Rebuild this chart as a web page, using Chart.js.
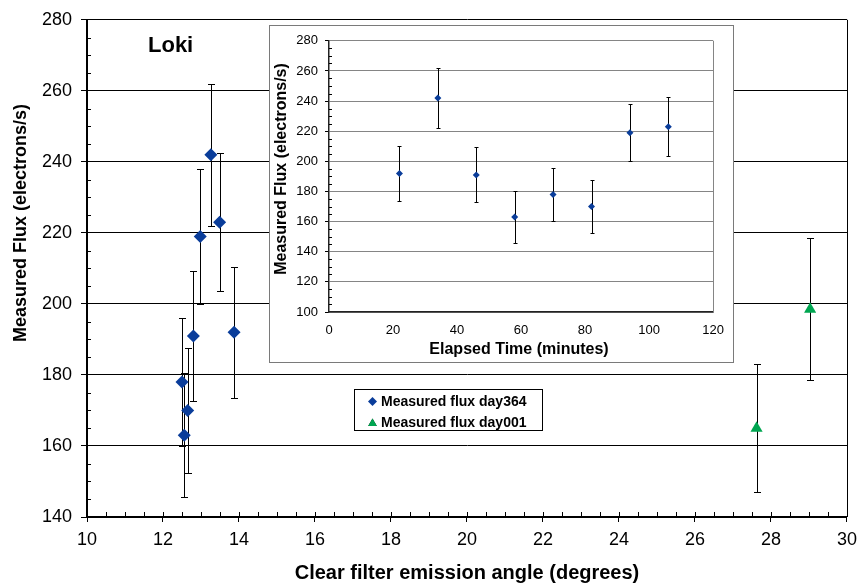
<!DOCTYPE html>
<html>
<head>
<meta charset="utf-8">
<script src="https://cdn.jsdelivr.net/npm/chart.js@4.4.1/dist/chart.umd.min.js"></script>
<style>
  html, body { margin: 0; padding: 0; background: #fff; }
  #wrap { position: relative; width: 861px; height: 588px; }
  #mainChart { position: absolute; left: 0; top: 0; }
  #insetBox {
    position: absolute; left: 269px; top: 25px; width: 465px; height: 338px;
    box-sizing: border-box; border: 1px solid #7a7a7a; background: #fff;
  }
  #insetChart { display: block; }
</style>
</head>
<body>
<div id="wrap">
  <canvas id="mainChart" width="861" height="588"></canvas>
  <div id="insetBox"><canvas id="insetChart" width="463" height="336"></canvas></div>
</div>
<script>
// Loki flux measurements, day 364 sequence (in order of elapsed time)
const elapsedMinutes = [22, 34, 46, 58, 70, 82, 94, 106];
const emissionAngle364 = [13.87, 13.26, 12.80, 12.56, 12.50, 12.65, 12.98, 13.49];
const flux364 = [192, 242, 191, 163, 178, 170, 219, 223];
const fluxErr364 = [18.5, 20, 18.3, 17.5, 17.9, 17.7, 19, 19.4];

// Day 001 measurements
const emissionAngle001 = [27.62, 29.03];
const flux001 = [165, 198.5];
const fluxErr001 = [18, 20];

// Axis ranges / tick spacing
const angleAxis = { min: 10, max: 30, step: 2, minor: 0.5 };
const fluxAxis = { min: 140, max: 280, step: 20, minor: 5 };
const timeAxis = { min: 0, max: 120, step: 20 };
const insetFluxAxis = { min: 100, max: 280, step: 20, minor: 5 };

const seriesNames = ['Measured flux day364', 'Measured flux day001'];
const titleText = 'Loki';
const mainYTitle = 'Measured Flux (electrons/s)';
const mainXTitle = 'Clear filter emission angle (degrees)';
const insetYTitle = 'Measured Flux (electrons/s)';
const insetXTitle = 'Elapsed Time (minutes)';

const BLUE = '#0a3d9a';
const GREEN = '#00a651';
const FONT = '"Liberation Sans", Arial, Helvetica, sans-serif';

const toPoints = (xs, ys) => xs.map((x, i) => ({ x: x, y: ys[i] }));

// vertical error bars with small caps, drawn under the markers
function errorBars(errs, capHalf) {
  return {
    id: 'errorBars',
    beforeDatasetsDraw(chart) {
      const { ctx } = chart;
      const xs = chart.scales.x, ys = chart.scales.y;
      ctx.save();
      ctx.strokeStyle = '#000';
      ctx.lineWidth = 1;
      chart.data.datasets.forEach((ds, i) => {
        const e = errs[i];
        if (!e) return;
        ds.data.forEach((p, j) => {
          const px = Math.round(xs.getPixelForValue(p.x)) + 0.5;
          const yTop = Math.round(ys.getPixelForValue(p.y + e[j])) + 0.5;
          const yBot = Math.round(ys.getPixelForValue(p.y - e[j])) + 0.5;
          ctx.beginPath();
          ctx.moveTo(px, yTop); ctx.lineTo(px, yBot);
          ctx.moveTo(px - capHalf, yTop); ctx.lineTo(px + capHalf, yTop);
          ctx.moveTo(px - capHalf, yBot); ctx.lineTo(px + capHalf, yBot);
          ctx.stroke();
        });
      });
      ctx.restore();
    }
  };
}

// minor ticks inside the plot, plus the right-hand frame line
function frameAndMinorTicks(cfg) {
  return {
    id: 'frameMinor',
    afterDatasetsDraw(chart) {
      const { ctx, chartArea: a } = chart;
      const xs = chart.scales.x, ys = chart.scales.y;
      ctx.save();
      ctx.strokeStyle = cfg.frameColor;
      ctx.lineWidth = 1;
      ctx.beginPath();
      ctx.moveTo(Math.round(a.right) + 0.5, a.top);
      ctx.lineTo(Math.round(a.right) + 0.5, a.bottom);
      ctx.stroke();
      ctx.strokeStyle = '#000';
      ctx.beginPath();
      if (cfg.yMinor) {
        for (let v = cfg.yRange.min + cfg.yMinor; v < cfg.yRange.max; v += cfg.yMinor) {
          if (Math.abs(v % cfg.yRange.step) < 1e-6) continue;
          const py = Math.round(ys.getPixelForValue(v)) + 0.5;
          ctx.moveTo(a.left, py); ctx.lineTo(a.left + cfg.yLen, py);
        }
      }
      if (cfg.xMinor) {
        for (let v = cfg.xRange.min + cfg.xMinor; v < cfg.xRange.max - 1e-6; v += cfg.xMinor) {
          const px = Math.round(xs.getPixelForValue(v)) + 0.5;
          ctx.moveTo(px, a.bottom); ctx.lineTo(px, a.bottom - cfg.xLen);
        }
      }
      ctx.stroke();
      ctx.restore();
    }
  };
}

// free-standing text: axis titles and the target name
function textLabels(items) {
  return {
    id: 'textLabels',
    afterDraw(chart) {
      const { ctx } = chart;
      items.forEach(t => {
        ctx.save();
        ctx.font = t.font;
        ctx.fillStyle = '#000';
        ctx.textAlign = t.align || 'center';
        ctx.textBaseline = t.baseline || 'middle';
        ctx.translate(t.x, t.y);
        if (t.rotate) ctx.rotate(t.rotate);
        ctx.fillText(t.text, 0, 0);
        ctx.restore();
      });
    }
  };
}

// boxed legend placed inside the plot area
const boxedLegend = {
  id: 'boxedLegend',
  afterDraw(chart) {
    const { ctx } = chart;
    const box = { x: 354.5, y: 389.5, w: 188, h: 41 };
    ctx.save();
    ctx.fillStyle = '#fff';
    ctx.fillRect(box.x, box.y, box.w, box.h);
    ctx.strokeStyle = '#000';
    ctx.lineWidth = 1;
    ctx.strokeRect(box.x, box.y, box.w, box.h);
    ctx.font = 'bold 14px ' + FONT;
    ctx.textAlign = 'left';
    ctx.textBaseline = 'middle';
    chart.data.datasets.forEach((ds, i) => {
      const cy = 401.5 + i * 21;
      Chart.helpers.drawPoint(ctx, {
        pointStyle: ds.pointStyle, radius: ds.pointStyle === 'triangle' ? 5 : 4.5,
        borderWidth: 0, rotation: 0
      }, 372.5, cy + (ds.pointStyle === 'triangle' ? 1 : 0));
      ctx.fillStyle = ds.backgroundColor;
      ctx.fill();
      ctx.fillStyle = '#000';
      ctx.fillText(ds.label, 381, cy + 1);
    });
    ctx.restore();
  }
};

new Chart(document.getElementById('mainChart'), {
  type: 'scatter',
  data: {
    datasets: [
      {
        label: seriesNames[0],
        data: toPoints(emissionAngle364, flux364),
        pointStyle: 'rectRot', pointRadius: 6.5, pointBorderWidth: 0,
        backgroundColor: BLUE, borderColor: BLUE
      },
      {
        label: seriesNames[1],
        data: toPoints(emissionAngle001, flux001),
        pointStyle: 'triangle', pointRadius: 7, pointBorderWidth: 0,
        backgroundColor: GREEN, borderColor: GREEN
      }
    ]
  },
  options: {
    responsive: false,
    animation: false,
    events: [],
    layout: { padding: { top: 13, right: 14, left: 0, bottom: 0 } },
    plugins: { legend: { display: false }, tooltip: { enabled: false } },
    scales: {
      x: {
        type: 'linear',
        min: angleAxis.min, max: angleAxis.max,
        afterFit(s) { s.height = 71; },
        ticks: { stepSize: angleAxis.step, color: '#000', padding: 4,
                 font: { family: FONT, size: 18, lineHeight: 1.6 } },
        grid: { drawOnChartArea: false, drawTicks: true, tickLength: 5, tickColor: '#000', tickWidth: 1 },
        border: { display: true, color: '#000', width: 2 }
      },
      y: {
        min: fluxAxis.min, max: fluxAxis.max,
        afterFit(s) { s.width = 87; },
        ticks: { stepSize: fluxAxis.step, color: '#000', padding: 9,
                 font: { family: FONT, size: 18 } },
        grid: { color: '#000', lineWidth: 1, drawTicks: true, tickLength: 6, tickColor: '#000' },
        border: { display: true, color: '#000', width: 2 }
      }
    }
  },
  plugins: [
    errorBars([fluxErr364, fluxErr001], 3.5),
    frameAndMinorTicks({ frameColor: '#000', yRange: fluxAxis, yMinor: fluxAxis.minor, yLen: 4,
                         xRange: angleAxis, xMinor: angleAxis.minor, xLen: 5 }),
    textLabels([
      { text: titleText, x: 148, y: 51.5, font: 'bold 22px ' + FONT, align: 'left', baseline: 'alphabetic' },
      { text: mainYTitle, x: 21.5, y: 223, font: 'bold 18px ' + FONT, rotate: -Math.PI / 2 },
      { text: mainXTitle, x: 467, y: 573, font: 'bold 20px ' + FONT }
    ]),
    boxedLegend
  ]
});

new Chart(document.getElementById('insetChart'), {
  type: 'scatter',
  data: {
    datasets: [
      {
        label: seriesNames[0],
        data: toPoints(elapsedMinutes, flux364),
        pointStyle: 'rectRot', pointRadius: 3.5, pointBorderWidth: 0,
        backgroundColor: BLUE, borderColor: BLUE
      }
    ]
  },
  options: {
    responsive: false,
    animation: false,
    events: [],
    layout: { padding: { top: 11, right: 19, left: 0, bottom: 0 } },
    plugins: { legend: { display: false }, tooltip: { enabled: false } },
    scales: {
      x: {
        type: 'linear',
        min: timeAxis.min, max: timeAxis.max,
        afterFit(s) { s.height = 50; },
        ticks: { stepSize: timeAxis.step, color: '#000', padding: 9,
                 font: { family: FONT, size: 13, lineHeight: 1.5 } },
        grid: { display: true, drawOnChartArea: false, drawTicks: false },
        border: { display: true, color: '#222', width: 1.5 }
      },
      y: {
        min: insetFluxAxis.min, max: insetFluxAxis.max,
        afterFit(s) { s.width = 59; },
        ticks: { stepSize: insetFluxAxis.step, color: '#000', padding: 7,
                 font: { family: FONT, size: 13 } },
        grid: { color: '#858585', lineWidth: 1, drawTicks: true, tickLength: 4, tickColor: '#000' },
        border: { display: true, color: '#222', width: 1.5 }
      }
    }
  },
  plugins: [
    errorBars([fluxErr364], 2),
    frameAndMinorTicks({ frameColor: '#858585', yRange: insetFluxAxis, yMinor: insetFluxAxis.minor, yLen: 3 }),
    textLabels([
      { text: insetYTitle, x: 11.5, y: 143, font: 'bold 16px ' + FONT, rotate: -Math.PI / 2 },
      { text: insetXTitle, x: 249, y: 323.5, font: 'bold 16px ' + FONT }
    ])
  ]
});
</script>
</body>
</html>
